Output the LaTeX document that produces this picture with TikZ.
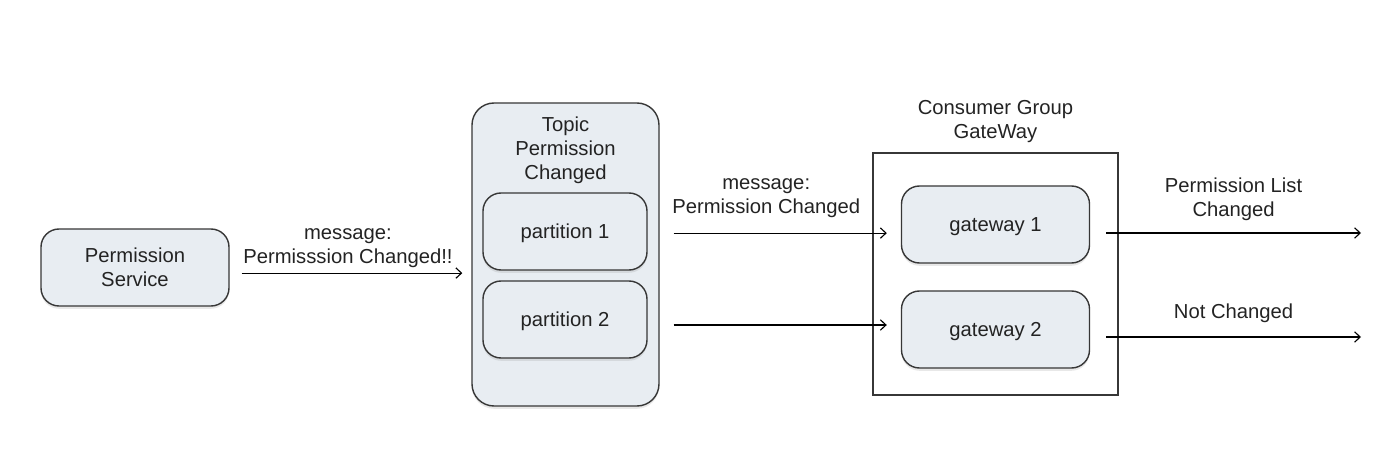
\documentclass[tikz,border=0pt]{standalone}
\usepackage{fontspec}
\setmainfont{Liberation Sans}
\usepackage{xcolor}
\usetikzlibrary{arrows.meta, positioning, calc, shadows}
\definecolor{boxfill}{RGB}{232, 237, 242}
\definecolor{boxline}{RGB}{55, 55, 55}
\definecolor{textgray}{RGB}{35, 35, 35}

\begin{document}
\begin{tikzpicture}[
    every node/.style={font=\fontsize{14.4}{17}\selectfont, text=textgray},
    svcbox/.style={rectangle, draw=boxline, fill=boxfill, rounded corners=0.45cm, minimum width=4.7cm, minimum height=1.925cm, align=center, text depth=0pt, line width=1pt, drop shadow={opacity=0.18, shadow xshift=0cm, shadow yshift=-0.07cm}},
    topicbox/.style={rectangle, draw=boxline, fill=boxfill, rounded corners=0.55cm, minimum width=4.675cm, minimum height=7.575cm, line width=1pt, drop shadow={opacity=0.18, shadow xshift=0cm, shadow yshift=-0.07cm}},
    partbox/.style={svcbox, minimum width=4.1cm},
    groupbox/.style={rectangle, draw=boxline, minimum width=6.125cm, minimum height=6.05cm, line width=0.9pt},
    caption/.style={align=center},
    arrow/.style={-{Straight Barb[length=1.4mm, width=2.6mm]}, line width=0.8pt, color=black}
]
\useasboundingbox (0,0) rectangle (35,11.6);

% Producer
\node[svcbox] (service) at (3.375,4.9125) {Permission\\Service};

% Topic
\node[topicbox] (topic) at (14.1375,5.2375) {};
\node[caption] (topicname) at ($(topic.north)+(0,-1.2)$) {Topic\\Permission\\Changed};
\node[partbox] (part1) at (14.125,5.8125) {partition 1};
\node[partbox] (part2) at (14.125,3.6125) {partition 2};

% Consumer group
\node[groupbox] (group) at (24.8875,4.75) {};
\node[caption] (groupname) at ($(group.north)+(0,0.78)$) {Consumer Group\\GateWay};
\node[svcbox] (gate1) at (24.8875,5.9875) {gateway 1};
\node[svcbox] (gate2) at (24.8875,3.3625) {gateway 2};

% Arrow ends
\coordinate (send) at ($(service.east)+(0.3,-0.14)$);
\coordinate (fwd1) at ($(part1.east)+(0.65,-0.04)$);
\coordinate (fwd2) at ($(part2.east)+(0.65,-0.1375)$);
\coordinate (out1) at (34.025,5.775);
\coordinate (out2) at (34.025,3.175);

% Arrows
\draw[arrow] (send) -- ([xshift=-0.225cm]topic.west |- send)
    node[caption, midway, yshift=0.63cm, xshift=-0.1cm] {message:\\Permisssion Changed!!};
\draw[arrow] (fwd1) -- ([xshift=-0.35cm]gate1.west |- fwd1)
    node[caption, midway, yshift=0.87cm, xshift=-0.35cm] {message:\\Permission Changed};
\draw[arrow] (fwd2) -- ([xshift=-0.35cm]gate2.west |- fwd2);
\draw[arrow] ([xshift=0.4cm]gate1.east |- out1) -- (out1)
    node[caption, midway, yshift=0.84cm] {Permission List\\Changed};
\draw[arrow] ([xshift=0.4cm]gate2.east |- out2) -- (out2)
    node[caption, midway, yshift=0.6cm] {Not Changed};

\end{tikzpicture}
\end{document}
